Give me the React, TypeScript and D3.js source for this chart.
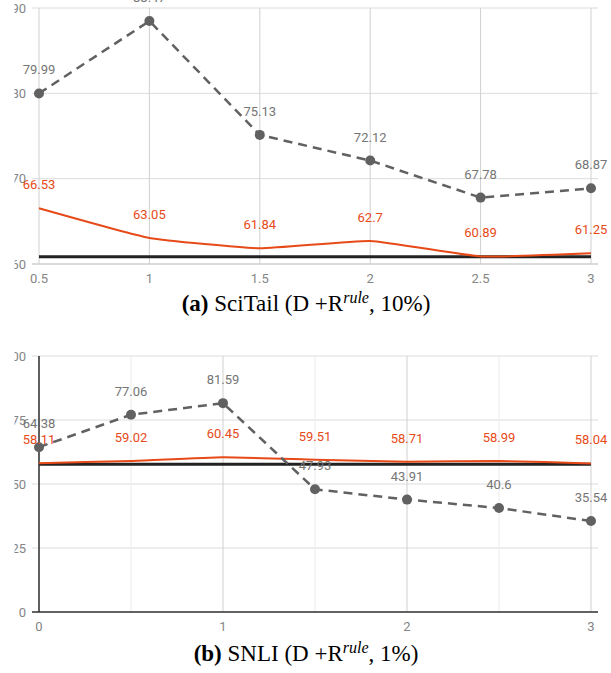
import React from "react";
import * as d3 from "d3";

// ---- Data: (a) SciTail ----
const sciX = [0.5, 1, 1.5, 2, 2.5, 3];
const sciDashed = [79.99, 88.47, 75.13, 72.12, 67.78, 68.87];
const sciRed = [66.53, 63.05, 61.84, 62.7, 60.89, 61.25];
const sciBase = [60.85, 60.85, 60.85, 60.85, 60.85, 60.85];
const sciXTicks = [0.5, 1, 1.5, 2, 2.5, 3];
const sciYTicks = [60, 70, 80, 90];

// ---- Data: (b) SNLI ----
const snliX = [0, 0.5, 1, 1.5, 2, 2.5, 3];
const snliDashed = [64.38, 77.06, 81.59, 47.93, 43.91, 40.6, 35.54];
const snliRed = [58.11, 59.02, 60.45, 59.51, 58.71, 58.99, 58.04];
const snliBase = [57.7, 57.7, 57.7, 57.7, 57.7, 57.7, 57.7];
const snliXTicks = [0, 1, 2, 3];
const snliXMinor = [0.5, 1.5, 2.5];
const snliYTicks = [0, 25, 50, 75, 100];

const GRAY = "#616161";
const LABEL_GRAY = "#757575";
const RED = "#e64a19";
const FONT = "Roboto, 'Noto Sans', sans-serif";

type PanelProps = {
  xs: number[];
  dashed: number[];
  red: number[];
  base: number[];
  xDomain: [number, number];
  yDomain: [number, number];
  xTicks: number[];
  xMinor: number[];
  yTicks: number[];
  top: number;
  bottom: number;
  darkAxes: boolean;
  clipId: string;
};

function Panel(p: PanelProps) {
  const x = d3.scaleLinear().domain(p.xDomain).range([39, 591]);
  const y = d3.scaleLinear().domain(p.yDomain).range([p.bottom, p.top]);
  const pts = (vals: number[]) => p.xs.map((xv, i) => [x(xv), y(vals[i])] as [number, number]);
  const straight = d3.line();
  const smooth = d3.line().curve(d3.curveCardinal.tension(0.6));
  const fmt = (v: number) => String(v);
  return (
    <g>
      <defs>
        <clipPath id={p.clipId}>
          <rect x={14.5} y={p.top - 20} width={600} height={p.bottom - p.top + 40} />
        </clipPath>
      </defs>
      {p.yTicks.map((t) => (
        <line key={"h" + t} x1={32} x2={598} y1={y(t)} y2={y(t)} stroke="#dcdcdc" strokeWidth={1} />
      ))}
      {p.xMinor.map((t) => (
        <line key={"vm" + t} x1={x(t)} x2={x(t)} y1={p.top} y2={p.bottom} stroke="#ececec" strokeWidth={1} />
      ))}
      {p.xTicks.map((t) => (
        <line key={"v" + t} x1={x(t)} x2={x(t)} y1={p.top} y2={p.bottom} stroke="#d0d0d0" strokeWidth={1} />
      ))}
      <line x1={32} x2={598} y1={p.bottom} y2={p.bottom} stroke={p.darkAxes ? "#333" : "#c8c8c8"} strokeWidth={p.darkAxes ? 1.5 : 1} />
      {p.darkAxes && <line x1={x(p.xDomain[0])} x2={x(p.xDomain[0])} y1={p.top} y2={p.bottom} stroke="#333" strokeWidth={1.5} />}
      <g clipPath={`url(#${p.clipId})`}>
        {p.yTicks.map((t) => (
          <text key={"yl" + t} x={26} y={y(t)} dy="0.35em" textAnchor="end" fontFamily={FONT} fontSize={13} fill="#858585">
            {t}
          </text>
        ))}
      </g>
      {p.xTicks.map((t) => (
        <text key={"xl" + t} x={x(t)} y={p.bottom + 19} textAnchor="middle" fontFamily={FONT} fontSize={13} fill="#858585">
          {t}
        </text>
      ))}
      <path d={straight(pts(p.base)) || ""} fill="none" stroke="#222" strokeWidth={3} />
      <path d={smooth(pts(p.red)) || ""} fill="none" stroke={RED} strokeWidth={2} />
      <path d={straight(pts(p.dashed)) || ""} fill="none" stroke={GRAY} strokeWidth={2.5} strokeDasharray="9,6" />
      {pts(p.dashed).map(([px, py], i) => (
        <circle key={"c" + i} cx={px} cy={py} r={5} fill={GRAY} />
      ))}
      {pts(p.red).map(([px, py], i) => (
        <text key={"rl" + i} x={px} y={py - 19} textAnchor="middle" fontFamily={FONT} fontSize={13} fill={RED}>
          {fmt(p.red[i])}
        </text>
      ))}
      {pts(p.dashed).map(([px, py], i) => (
        <text key={"dl" + i} x={px} y={py - 19} textAnchor="middle" fontFamily={FONT} fontSize={13} fill={LABEL_GRAY}>
          {fmt(p.dashed[i])}
        </text>
      ))}
    </g>
  );
}

function Caption({ x, y, tag, name, pct }: { x: number; y: number; tag: string; name: string; pct: string }) {
  return (
    <text x={x} y={y} textAnchor="middle" fontFamily="'Liberation Serif', 'Times New Roman', serif" fontSize={23} fill="#000">
      <tspan fontWeight="bold">{tag}</tspan>
      <tspan>{` ${name} (D +R`}</tspan>
      <tspan fontStyle="italic" fontSize={16} dy={-8}>rule</tspan>
      <tspan dy={8}>{`, ${pct})`}</tspan>
    </text>
  );
}

export default function App() {
  return (
    <svg
      width={611}
      height={673}
      style={{ position: "absolute", left: 0, top: 0, background: "#fff" }}
    >
      <rect x={0} y={0} width={611} height={673} fill="#fff" />
      <Panel
        xs={sciX}
        dashed={sciDashed}
        red={sciRed}
        base={sciBase}
        xDomain={[0.5, 3]}
        yDomain={[60, 90]}
        xTicks={sciXTicks}
        xMinor={[]}
        yTicks={sciYTicks}
        top={8}
        bottom={264}
        darkAxes={false}
        clipId="clipA"
      />
      <Caption x={306} y={311} tag="(a)" name="SciTail" pct="10%" />
      <Panel
        xs={snliX}
        dashed={snliDashed}
        red={snliRed}
        base={snliBase}
        xDomain={[0, 3]}
        yDomain={[0, 100]}
        xTicks={snliXTicks}
        xMinor={snliXMinor}
        yTicks={snliYTicks}
        top={356}
        bottom={612}
        darkAxes={true}
        clipId="clipB"
      />
      <Caption x={306} y={661} tag="(b)" name="SNLI" pct="1%" />
    </svg>
  );
}
